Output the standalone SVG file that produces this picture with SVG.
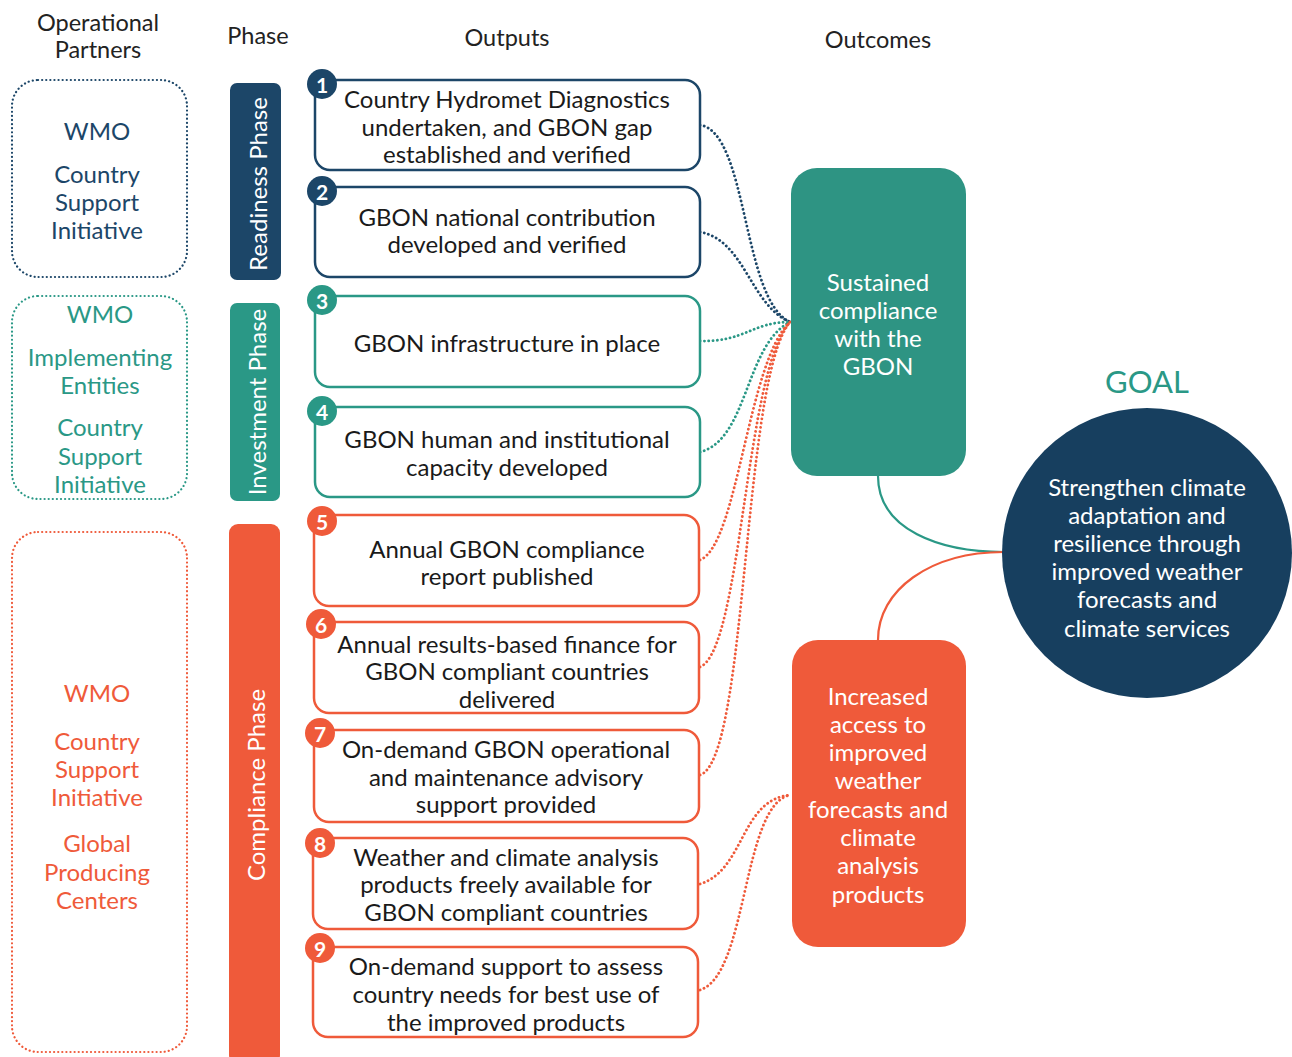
<svg xmlns="http://www.w3.org/2000/svg" width="1292" height="1057" viewBox="0 0 1292 1057">
<style>
text{font-family:Lato,"Noto Sans","DejaVu Sans",sans-serif;text-anchor:middle;dominant-baseline:central}
.hdr{font-size:23.5px;fill:#222}
.out{font-size:24px;fill:#1a1a1a}
.navy{fill:#1c4668}
.teal{fill:#2a9886}
.orng{fill:#ef5a3a}
.ptxt{font-size:24px}
.partner{fill:none;stroke-width:2.2;stroke-linecap:round;stroke-dasharray:0.1 4}
.ob{fill:#fff;stroke-width:2.5}
.num{font-size:21px;font-weight:bold;fill:#fff}
.ph{font-size:24px;fill:#fff}
.wt{font-size:24px;fill:#fff}
.dot{fill:none;stroke-width:2.8;stroke-linecap:round;stroke-dasharray:0.1 4.2}
</style>

<!-- headers -->
<g id="headers">
<text class="hdr" x="98" y="22">Operational</text>
<text class="hdr" x="98" y="49">Partners</text>
<text class="hdr" x="258" y="35">Phase</text>
<text class="hdr" x="507" y="37">Outputs</text>
<text class="hdr" x="878" y="39">Outcomes</text>
</g>

<!-- partner boxes -->
<g id="partner-readiness">
<rect class="partner" x="12" y="80" width="175" height="197" rx="26" stroke="#1c4668"/>
<text class="ptxt navy" x="97" y="130">WMO</text>
<text class="ptxt navy" x="97" y="173">Country</text>
<text class="ptxt navy" x="97" y="201">Support</text>
<text class="ptxt navy" x="97" y="229">Initiative</text>
</g>
<g id="partner-investment">
<rect class="partner" x="12" y="296" width="175" height="203" rx="26" stroke="#2a9886"/>
<text class="ptxt teal" x="100" y="313">WMO</text>
<text class="ptxt teal" x="100" y="356">Implementing</text>
<text class="ptxt teal" x="100" y="384">Entities</text>
<text class="ptxt teal" x="100" y="426">Country</text>
<text class="ptxt teal" x="100" y="455">Support</text>
<text class="ptxt teal" x="100" y="483">Initiative</text>
</g>
<g id="partner-compliance">
<rect class="partner" x="12" y="532" width="175" height="520" rx="26" stroke="#ef5a3a"/>
<text class="ptxt orng" x="97" y="692">WMO</text>
<text class="ptxt orng" x="97" y="740">Country</text>
<text class="ptxt orng" x="97" y="768">Support</text>
<text class="ptxt orng" x="97" y="796">Initiative</text>
<text class="ptxt orng" x="97" y="842">Global</text>
<text class="ptxt orng" x="97" y="871">Producing</text>
<text class="ptxt orng" x="97" y="899">Centers</text>
</g>

<!-- phase bars -->
<g id="phase-readiness">
<rect x="230" y="83" width="51" height="197" rx="7" fill="#1c4668"/>
<text class="ph" transform="translate(257,184) rotate(-90)">Readiness Phase</text>
</g>
<g id="phase-investment">
<rect x="230" y="303" width="50" height="198" rx="7" fill="#2a9886"/>
<text class="ph" transform="translate(256,402) rotate(-90)">Investment Phase</text>
</g>
<g id="phase-compliance">
<rect x="229" y="524" width="51" height="540" rx="9" fill="#ef5a3a"/>
<text class="ph" transform="translate(255,785) rotate(-90)">Compliance Phase</text>
</g>

<!-- connectors -->
<g id="connectors">
<path class="dot" stroke="#1c4668" d="M700,125 C748,132 742,300 790,322"/>
<path class="dot" stroke="#1c4668" d="M700,232 C745,240 750,305 790,322"/>
<path class="dot" stroke="#2a9886" d="M700,341 C745,342 752,322 790,322"/>
<path class="dot" stroke="#2a9886" d="M700,452 C748,440 745,345 790,322"/>
<path class="dot" stroke="#ef5a3a" d="M700,560 C738,545 748,360 790,322"/>
<path class="dot" stroke="#ef5a3a" d="M700,667 C742,650 745,370 790,322"/>
<path class="dot" stroke="#ef5a3a" d="M700,775 C748,760 742,380 790,322"/>
<path class="dot" stroke="#ef5a3a" d="M700,884 C745,870 740,800 790,795"/>
<path class="dot" stroke="#ef5a3a" d="M700,990 C748,975 742,805 790,795"/>
<path fill="none" stroke="#2a9886" stroke-width="2.2" d="M878,476 C878,530 940,552 1004,552"/>
<path fill="none" stroke="#ef5a3a" stroke-width="2.2" d="M878,640 C878,590 930,552 1004,552"/>
</g>

<!-- output boxes -->
<g id="output-1">
<rect class="ob" x="315" y="80" width="385" height="90" rx="15" stroke="#1c4668"/>
<circle cx="322" cy="84" r="15" fill="#1c4668"/>
<text class="num" x="322" y="84">1</text>
<text class="out" x="507" y="98">Country Hydromet Diagnostics</text>
<text class="out" x="507" y="126">undertaken, and GBON gap</text>
<text class="out" x="507" y="153">established and verified</text>
</g>
<g id="output-2">
<rect class="ob" x="315" y="187" width="385" height="90" rx="15" stroke="#1c4668"/>
<circle cx="322" cy="191" r="15" fill="#1c4668"/>
<text class="num" x="322" y="191">2</text>
<text class="out" x="507" y="216">GBON national contribution</text>
<text class="out" x="507" y="243">developed and verified</text>
</g>
<g id="output-3">
<rect class="ob" x="315" y="296" width="385" height="91" rx="15" stroke="#2a9886"/>
<circle cx="322" cy="300" r="15" fill="#2a9886"/>
<text class="num" x="322" y="300">3</text>
<text class="out" x="507" y="342">GBON infrastructure in place</text>
</g>
<g id="output-4">
<rect class="ob" x="315" y="407" width="385" height="90" rx="15" stroke="#2a9886"/>
<circle cx="322" cy="411" r="15" fill="#2a9886"/>
<text class="num" x="322" y="411">4</text>
<text class="out" x="507" y="438">GBON human and institutional</text>
<text class="out" x="507" y="466">capacity developed</text>
</g>
<g id="output-5">
<rect class="ob" x="314" y="515" width="385" height="91" rx="15" stroke="#ef5a3a"/>
<circle cx="322" cy="521" r="15" fill="#ef5a3a"/>
<text class="num" x="322" y="521">5</text>
<text class="out" x="507" y="548">Annual GBON compliance</text>
<text class="out" x="507" y="575">report published</text>
</g>
<g id="output-6">
<rect class="ob" x="314" y="622" width="385" height="91" rx="15" stroke="#ef5a3a"/>
<circle cx="321" cy="624" r="15" fill="#ef5a3a"/>
<text class="num" x="321" y="624">6</text>
<text class="out" x="507" y="643">Annual results-based finance for</text>
<text class="out" x="507" y="670">GBON compliant countries</text>
<text class="out" x="507" y="698">delivered</text>
</g>
<g id="output-7">
<rect class="ob" x="314" y="730" width="385" height="92" rx="15" stroke="#ef5a3a"/>
<circle cx="320" cy="733" r="15" fill="#ef5a3a"/>
<text class="num" x="320" y="733">7</text>
<text class="out" x="506" y="748">On-demand GBON operational</text>
<text class="out" x="506" y="776">and maintenance advisory</text>
<text class="out" x="506" y="803">support provided</text>
</g>
<g id="output-8">
<rect class="ob" x="313" y="838" width="385" height="91" rx="15" stroke="#ef5a3a"/>
<circle cx="320" cy="843" r="15" fill="#ef5a3a"/>
<text class="num" x="320" y="843">8</text>
<text class="out" x="506" y="856">Weather and climate analysis</text>
<text class="out" x="506" y="883">products freely available for</text>
<text class="out" x="506" y="911">GBON compliant countries</text>
</g>
<g id="output-9">
<rect class="ob" x="313" y="947" width="385" height="90" rx="15" stroke="#ef5a3a"/>
<circle cx="320" cy="948" r="15" fill="#ef5a3a"/>
<text class="num" x="320" y="948">9</text>
<text class="out" x="506" y="965">On-demand support to assess</text>
<text class="out" x="506" y="993">country needs for best use of</text>
<text class="out" x="506" y="1021">the improved products</text>
</g>

<!-- outcomes -->
<g id="outcome-sustained">
<rect x="791" y="168" width="175" height="308" rx="26" fill="#2e9483"/>
<text class="wt" x="878" y="281">Sustained</text>
<text class="wt" x="878" y="309">compliance</text>
<text class="wt" x="878" y="337">with the</text>
<text class="wt" x="878" y="365">GBON</text>
</g>
<g id="outcome-access">
<rect x="792" y="640" width="174" height="307" rx="26" fill="#ef5a3a"/>
<text class="wt" x="878" y="695">Increased</text>
<text class="wt" x="878" y="723">access to</text>
<text class="wt" x="878" y="751">improved</text>
<text class="wt" x="878" y="779">weather</text>
<text class="wt" x="878" y="808">forecasts and</text>
<text class="wt" x="878" y="836">climate</text>
<text class="wt" x="878" y="864">analysis</text>
<text class="wt" x="878" y="893">products</text>
</g>

<!-- goal -->
<g id="goal">
<text x="1147" y="381" font-size="31" fill="#2a9886">GOAL</text>
<circle cx="1147" cy="553" r="145" fill="#173f5f"/>
<text class="wt" x="1147" y="486">Strengthen climate</text>
<text class="wt" x="1147" y="514">adaptation and</text>
<text class="wt" x="1147" y="542">resilience through</text>
<text class="wt" x="1147" y="570">improved weather</text>
<text class="wt" x="1147" y="598">forecasts and</text>
<text class="wt" x="1147" y="627">climate services</text>
</g>
</svg>
